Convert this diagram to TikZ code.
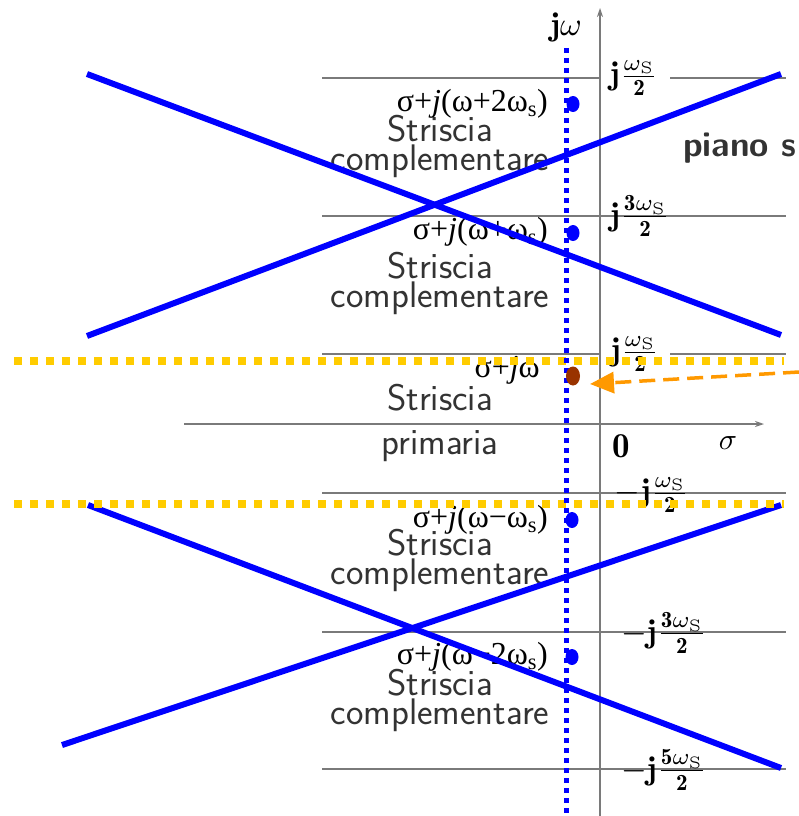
\RequirePackage{fix-cm}
\documentclass[tikz,border=0pt]{standalone}
\usepackage{fontspec}
\newfontfamily\tnr{Liberation Serif}
\usetikzlibrary{arrows.meta,shapes.geometric}
\definecolor{axgray}{HTML}{7A7A7A}
\definecolor{txtgray}{HTML}{333333}
\definecolor{pureblue}{HTML}{0000FF}
\definecolor{gold}{HTML}{FFCC00}
\definecolor{orng}{HTML}{FF9900}
\definecolor{brwn}{HTML}{993300}
\newcommand{\bigmath}[2]{\scalebox{#1}{$#2$}}
\tikzset{
  gridline/.style={draw=axgray, line width=1.3pt},
  axisline/.style={draw=axgray, line width=1.5pt, -{Stealth[length=9pt,width=6pt]}},
  stripetext/.style={font=\fontsize{37}{29}\selectfont\sffamily, text=txtgray, align=center, inner sep=0pt},
  ptlabel/.style={font=\fontsize{32}{34}\selectfont\tnr, anchor=east, inner sep=0pt},
  axlabel/.style={font=\fontsize{10}{12}\selectfont, inner sep=0pt},
  crossline/.style={draw=pureblue, line width=6pt},
  goldline/.style={draw=gold, line width=8pt, dash pattern=on 8pt off 8pt},
  bluedot/.style={fill=pureblue, draw=none, ellipse, minimum width=13pt, minimum height=16pt, inner sep=0pt},
}
\begin{document}
\begin{tikzpicture}[x=1pt,y=-1pt]
\useasboundingbox (0,0) rectangle (799,816);
% grid coordinates
\coordinate (g1l) at (322,78);  \coordinate (g1m) at (600,78);  \coordinate (g1r0) at (670,78);  \coordinate (g1r) at (786,78);
\coordinate (g2l) at (322,216); \coordinate (g2r) at (786,216);
\coordinate (g3l) at (322,354); \coordinate (g3m) at (600,354); \coordinate (g3r0) at (670,354); \coordinate (g3r) at (786,354);
\coordinate (g4l) at (322,493); \coordinate (g4r) at (786,493);
\coordinate (g5l) at (322,632); \coordinate (g5r) at (786,632);
\coordinate (g6l) at (322,769); \coordinate (g6r) at (786,769);
\draw[gridline] (g1l) -- (g1m);
\draw[gridline] (g1r0) -- (g1r);
\draw[gridline] (g2l) -- (g2r);
\draw[gridline] (g3l) -- (g3m);
\draw[gridline] (g3r0) -- (g3r);
\draw[gridline] (g4l) -- (g4r);
\draw[gridline] (g5l) -- (g5r);
\draw[gridline] (g6l) -- (g6r);
% axes
\coordinate (vb) at (600,816); \coordinate (vt) at (600,8);
\coordinate (hl) at (184,424); \coordinate (hr) at (764,424);
\draw[axisline] (vb) -- (vt);
\draw[axisline] (hl) -- (hr);
% axis labels
\node[axlabel] (jw) at (566,27) {\bigmath{3.3}{\mathbf{j}\omega}};
\node[axlabel] (l1) at (634,78) {\bigmath{3.3}{\mathbf{j}\frac{\omega_{\mathrm{S}}}{\mathbf{2}}}};
\node[axlabel] (l2) at (640,216) {\bigmath{3.3}{\mathbf{j}\frac{\mathbf{3}\omega_{\mathrm{S}}}{\mathbf{2}}}};
\node[axlabel] (l3) at (635,354) {\bigmath{3.3}{\mathbf{j}\frac{\omega_{\mathrm{S}}}{\mathbf{2}}}};
\node[axlabel] (zero) at (621,446) {\bigmath{3.5}{\mathbf{0}}};
\node[axlabel] (sig) at (728,443) {\bigmath{3}{\sigma}};
\node[axlabel] (l4) at (652,495) {\bigmath{3.3}{-\mathbf{j}\frac{\omega_{\mathrm{S}}}{\mathbf{2}}}};
\node[axlabel] (l5) at (664,633) {\bigmath{3.3}{-\mathbf{j}\frac{\mathbf{3}\omega_{\mathrm{S}}}{\mathbf{2}}}};
\node[axlabel] (l6) at (664,770) {\bigmath{3.3}{-\mathbf{j}\frac{\mathbf{5}\omega_{\mathrm{S}}}{\mathbf{2}}}};
\node[font=\fontsize{35}{37}\selectfont\sffamily\bfseries, text=txtgray, inner sep=0pt] (piano) at (740,148) {piano s};
% stripe texts
\node[stripetext] (s1) at (440,146) {Striscia\\complementare};
\node[stripetext] (s2) at (440,283) {Striscia\\complementare};
\node[stripetext] (s3a) at (440,398) {Striscia};
\node[stripetext] (s3b) at (440,446) {primaria};
\node[stripetext] (s4) at (440,560) {Striscia\\complementare};
\node[stripetext] (s5) at (440,700) {Striscia\\complementare};
% point labels
\node[ptlabel] (p1) at (548,104) {σ+\textit{j}(ω+2ω\textsubscript{s})};
\node[ptlabel] (p2) at (548,232) {σ+\textit{j}(ω+ω\textsubscript{s})};
\node[ptlabel] (p3) at (540,370) {σ+\textit{j}ω};
\node[ptlabel] (p4) at (548,520) {σ+\textit{j}(ω−ω\textsubscript{s})};
\node[ptlabel] (p5) at (548,657) {σ+\textit{j}(ω−2ω\textsubscript{s})};
% blue crossing lines
\coordinate (a1) at (87,74);  \coordinate (a2) at (781,335);
\coordinate (b1) at (87,336); \coordinate (b2) at (781,74);
\coordinate (c1) at (88,505); \coordinate (c2) at (781,768);
\coordinate (d1) at (62,745); \coordinate (d2) at (781,505);
\draw[crossline] (a1) -- (a2);
\draw[crossline] (b1) -- (b2);
\draw[crossline] (c1) -- (c2);
\draw[crossline] (d1) -- (d2);
% gold dotted lines
\coordinate (y1l) at (14,361); \coordinate (y1r) at (784,361);
\coordinate (y2l) at (14,504); \coordinate (y2r) at (784,504);
\draw[goldline] (y1l) -- (y1r);
\draw[goldline] (y2l) -- (y2r);
% blue dotted vertical
\coordinate (bt) at (566,48); \coordinate (bb) at (566,816);
\draw[draw=pureblue, line width=5pt, dash pattern=on 5pt off 5pt] (bt) -- (bb);
% dots
\node[bluedot] (d1n) at (573,104) {};
\node[bluedot] (d2n) at (573,233) {};
\node[bluedot] (d4n) at (572,520) {};
\node[bluedot] (d5n) at (572,657) {};
\node[ellipse, fill=brwn, minimum width=14pt, minimum height=19pt, inner sep=0pt] (dp) at (573,376) {};
% orange arrow
\coordinate (os) at (799,372);
\coordinate (oe) at (590,384);
\draw[draw=orng, line width=3.5pt, dash pattern=on 16pt off 8pt, -{Triangle[length=24pt,width=21pt]}] (os) -- (oe);
\end{tikzpicture}
\end{document}
